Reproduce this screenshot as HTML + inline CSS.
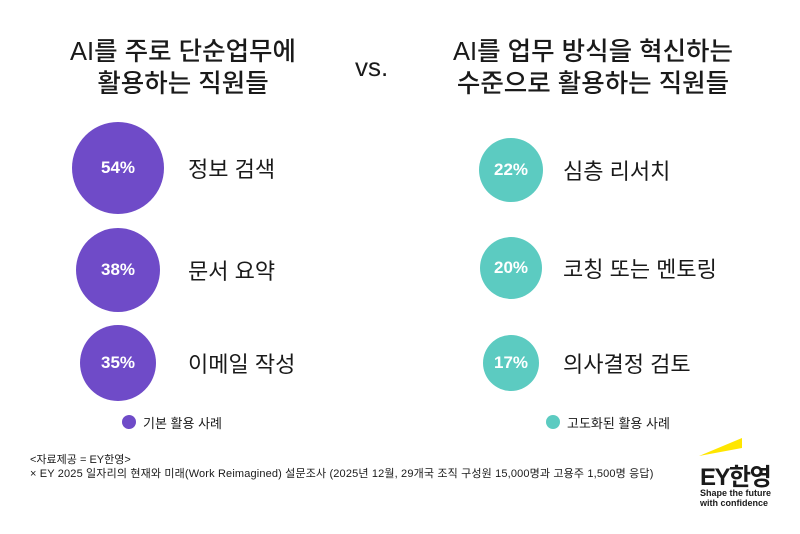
<!DOCTYPE html>
<html><head><meta charset="utf-8"><style>
body{margin:0;width:800px;height:534px;background:#fff;position:relative;overflow:hidden;font-family:"Liberation Sans","Noto Sans CJK KR",sans-serif;color:#1a1a1a}
.a{position:absolute;white-space:nowrap}
.t{font-size:25.5px;font-weight:500;text-align:center;line-height:32px}
.c{position:absolute;border-radius:50%;color:#fff;font-weight:bold;font-size:17px;display:flex;align-items:center;justify-content:center}
.p{background:#6f4bc8}.g{background:#5ccbc1}
.l{font-size:22px;transform:translateY(-50%)}
</style></head><body>
<div class="a t" style="left:33px;width:300px;top:36px">AI를 주로 단순업무에<br>활용하는 직원들</div>
<div class="a" style="left:355px;top:52px;font-size:26px">vs.</div>
<div class="a t" style="left:443px;width:300px;top:36px">AI를 업무 방식을 혁신하는<br>수준으로 활용하는 직원들</div>

<div class="c p" style="left:72px;top:122px;width:92px;height:92px">54%</div>
<div class="c p" style="left:76px;top:228px;width:84px;height:84px">38%</div>
<div class="c p" style="left:80px;top:325px;width:76px;height:76px">35%</div>
<div class="a l" style="left:188px;top:168px">정보 검색</div>
<div class="a l" style="left:188px;top:270px">문서 요약</div>
<div class="a l" style="left:188px;top:363px">이메일 작성</div>

<div class="c g" style="left:479px;top:138px;width:64px;height:64px">22%</div>
<div class="c g" style="left:480px;top:237px;width:62px;height:62px">20%</div>
<div class="c g" style="left:483px;top:335px;width:56px;height:56px">17%</div>
<div class="a l" style="left:563px;top:170px">심층 리서치</div>
<div class="a l" style="left:563px;top:268px">코칭 또는 멘토링</div>
<div class="a l" style="left:563px;top:363px">의사결정 검토</div>

<div class="a" style="left:122px;top:415px;width:14px;height:14px;border-radius:50%;background:#6f4bc8"></div>
<div class="a" style="left:143px;top:413px;font-size:13px">기본 활용 사례</div>
<div class="a" style="left:546px;top:415px;width:14px;height:14px;border-radius:50%;background:#5ccbc1"></div>
<div class="a" style="left:567px;top:413px;font-size:13px">고도화된 활용 사례</div>

<div class="a" style="left:30px;top:451px;font-size:11px">&lt;자료제공 = EY한영&gt;</div>
<div class="a" style="left:30px;top:465px;font-size:11px;letter-spacing:0.15px">× EY 2025 일자리의 현재와 미래(Work Reimagined) 설문조사 (2025년 12월, 29개국 조직 구성원 15,000명과 고용주 1,500명 응답)</div>

<svg class="a" style="left:697px;top:436px" width="50" height="22"><polygon points="2,20 45,2 45,12" fill="#ffe600"/></svg>
<div class="a" style="left:700px;top:457px;font-size:24px;font-weight:bold;letter-spacing:-1.5px">EY한영</div>
<div class="a" style="left:700px;top:488px;font-size:9px;font-weight:bold;line-height:10px">Shape the future<br>with confidence</div>
</body></html>
